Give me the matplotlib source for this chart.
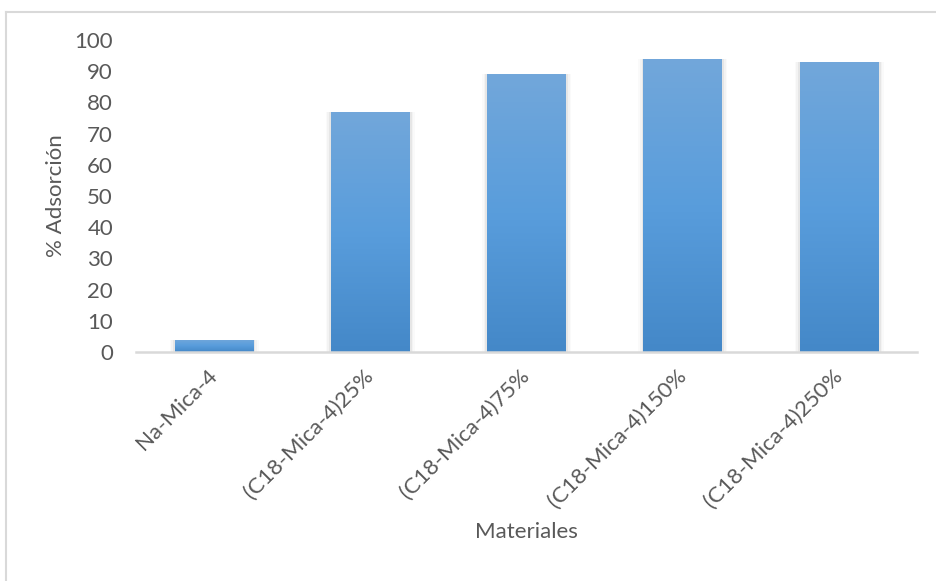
import numpy as np
import matplotlib.pyplot as plt
from matplotlib.lines import Line2D
from matplotlib.colors import LinearSegmentedColormap

materiales = ["Na-Mica-4", "(C18-Mica-4)25%", "(C18-Mica-4)75%",
              "(C18-Mica-4)150%", "(C18-Mica-4)250%"]
adsorcion = [4, 77, 89, 94, 93]
yticks = [0, 10, 20, 30, 40, 50, 60, 70, 80, 90, 100]

plt.rcParams['font.family'] = ['Lato', 'DejaVu Sans']
textcolor = '#595959'
fs = 16

fig = plt.figure(figsize=(9.37, 5.81), dpi=100)
ax = fig.add_axes([0.1451, 0.3941, 0.979 - 0.1451, 0.9312 - 0.3941])

x = np.arange(len(materiales))
width = 0.505

# soft shadow behind bars
for dx, a in [(0.012, 0.10), (0.022, 0.06), (0.032, 0.03)]:
    ax.bar(x, np.array(adsorcion) + 0.3, width=width + 2 * dx, bottom=-0.3,
           color='#7f7f7f', alpha=a, linewidth=0, zorder=1)

bars = ax.bar(x, adsorcion, width=width, color='#5b9bd5', linewidth=0, zorder=2)

# vertical gradient, lighter at top
cmap = LinearSegmentedColormap.from_list('g', ['#4488c8', '#599ddc', '#72a7da'])
grad = np.linspace(0, 1, 256).reshape(-1, 1)
for b in bars:
    x0, y0 = b.get_x(), b.get_y()
    w, h = b.get_width(), b.get_height()
    im = ax.imshow(grad, cmap=cmap, origin='lower', aspect='auto',
                   extent=[x0, x0 + w, y0, y0 + h], zorder=3)
    im.set_clip_path(b)

ax.set_xlim(-0.5, len(materiales) - 0.5)
ax.set_ylim(0, 100)
ax.set_yticks(yticks)
ax.set_xticks(x)
ax.set_xticklabels(materiales, rotation=45, ha='right', va='center',
                   rotation_mode='anchor', fontsize=fs, color=textcolor)
ax.tick_params(axis='y', labelsize=fs, labelcolor=textcolor, length=0, pad=16.5)
ax.tick_params(axis='x', length=0, pad=15)

for s in ['top', 'right', 'left']:
    ax.spines[s].set_visible(False)
ax.spines['bottom'].set_color('#d9d9d9')
ax.spines['bottom'].set_linewidth(1.8)
ax.spines['bottom'].set_zorder(4)

ax.set_xlabel("Materiales", fontsize=fs, color=textcolor)
ax.xaxis.set_label_coords(0.5, -0.545)
ax.set_ylabel("% Adsorción", fontsize=fs, color=textcolor)
ax.yaxis.set_label_coords(-0.09, 0.5)

# chart area border (only left and top visible in the crop)
fig.add_artist(Line2D([0.0069, 0.0069], [0, 0.98], transform=fig.transFigure,
                      color='#d9d9d9', linewidth=1.5))
fig.add_artist(Line2D([0.0069, 1.0], [0.98, 0.98], transform=fig.transFigure,
                      color='#d9d9d9', linewidth=1.5))

fig.savefig("out.png", dpi=100)
